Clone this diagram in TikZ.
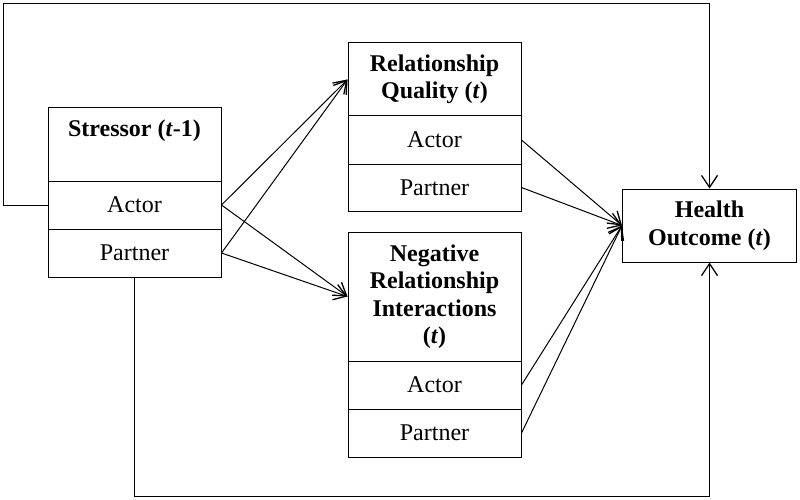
\documentclass[tikz,border=0pt]{standalone}
\usepackage{fontspec}
\setmainfont{Liberation Serif}
\usetikzlibrary{arrows.meta}
\begin{document}
\begin{tikzpicture}[x=1pt,y=-1pt,
 cell/.style={draw, line width=1pt, minimum width=173pt, inner sep=0pt, font=\fontsize{24}{27}\selectfont, align=center},
 boldcell/.style={cell, font=\fontsize{24}{27.5}\selectfont\bfseries},
 ttl/.style={font=\fontsize{24}{27}\selectfont\bfseries, align=center, inner sep=0pt},
 conn/.style={line width=1pt, -{Straight Barb[length=12pt,width=16pt,line width=1.3pt]}},
]
\useasboundingbox[fill=white] (0,0) rectangle (800,500);
% Stressor
\node[cell, minimum height=73pt] (sT) at (134.5,144.5) {};
\node[ttl] (sTt) at (134.5,131) {Stressor (\textit{t}-1)};
\node[cell, minimum height=48pt] (sA) at (134.5,205) {Actor};
\node[cell, minimum height=48pt] (sP) at (134.5,253) {Partner};
% Relationship quality
\node[boldcell, minimum height=73pt] (rqT) at (434.5,79.5) {Relationship\\Quality (\textit{t})};
\node[cell, minimum height=48pt] (rqA) at (434.5,140) {Actor};
\node[cell, minimum height=47pt] (rqP) at (434.5,187.5) {Partner};
% Negative relationship interactions
\node[boldcell, minimum height=129pt] (ngT) at (434.5,296.5) {Negative\\Relationship\\Interactions\\(\textit{t})};
\node[cell, minimum height=48pt] (ngA) at (434.5,385) {Actor};
\node[cell, minimum height=48pt] (ngP) at (434.5,433) {Partner};
% Health outcome
\node[boldcell, minimum width=174pt, minimum height=73pt] (H) at (709.5,225.5) {Health\\Outcome (\textit{t})};
% connectors
\draw[conn] (sA.east) -- (rqT.west);
\draw[conn] (sP.east) -- (rqT.west);
\draw[conn] (sA.east) -- (ngT.west);
\draw[conn] (sP.east) -- (ngT.west);
\draw[conn] (rqA.east) -- (H.west);
\draw[conn] (rqP.east) -- (H.west);
\draw[conn] (ngA.east) -- (H.west);
\draw[conn] (ngP.east) -- (H.west);
\coordinate (tl) at (3.5,3.5);
\draw[conn] (sA.west) -| (tl) -| (H.north);
\coordinate (bl) at (134.5,496.5);
\draw[conn] (sP.south) -- (bl) -| (H.south);
\end{tikzpicture}
\end{document}
